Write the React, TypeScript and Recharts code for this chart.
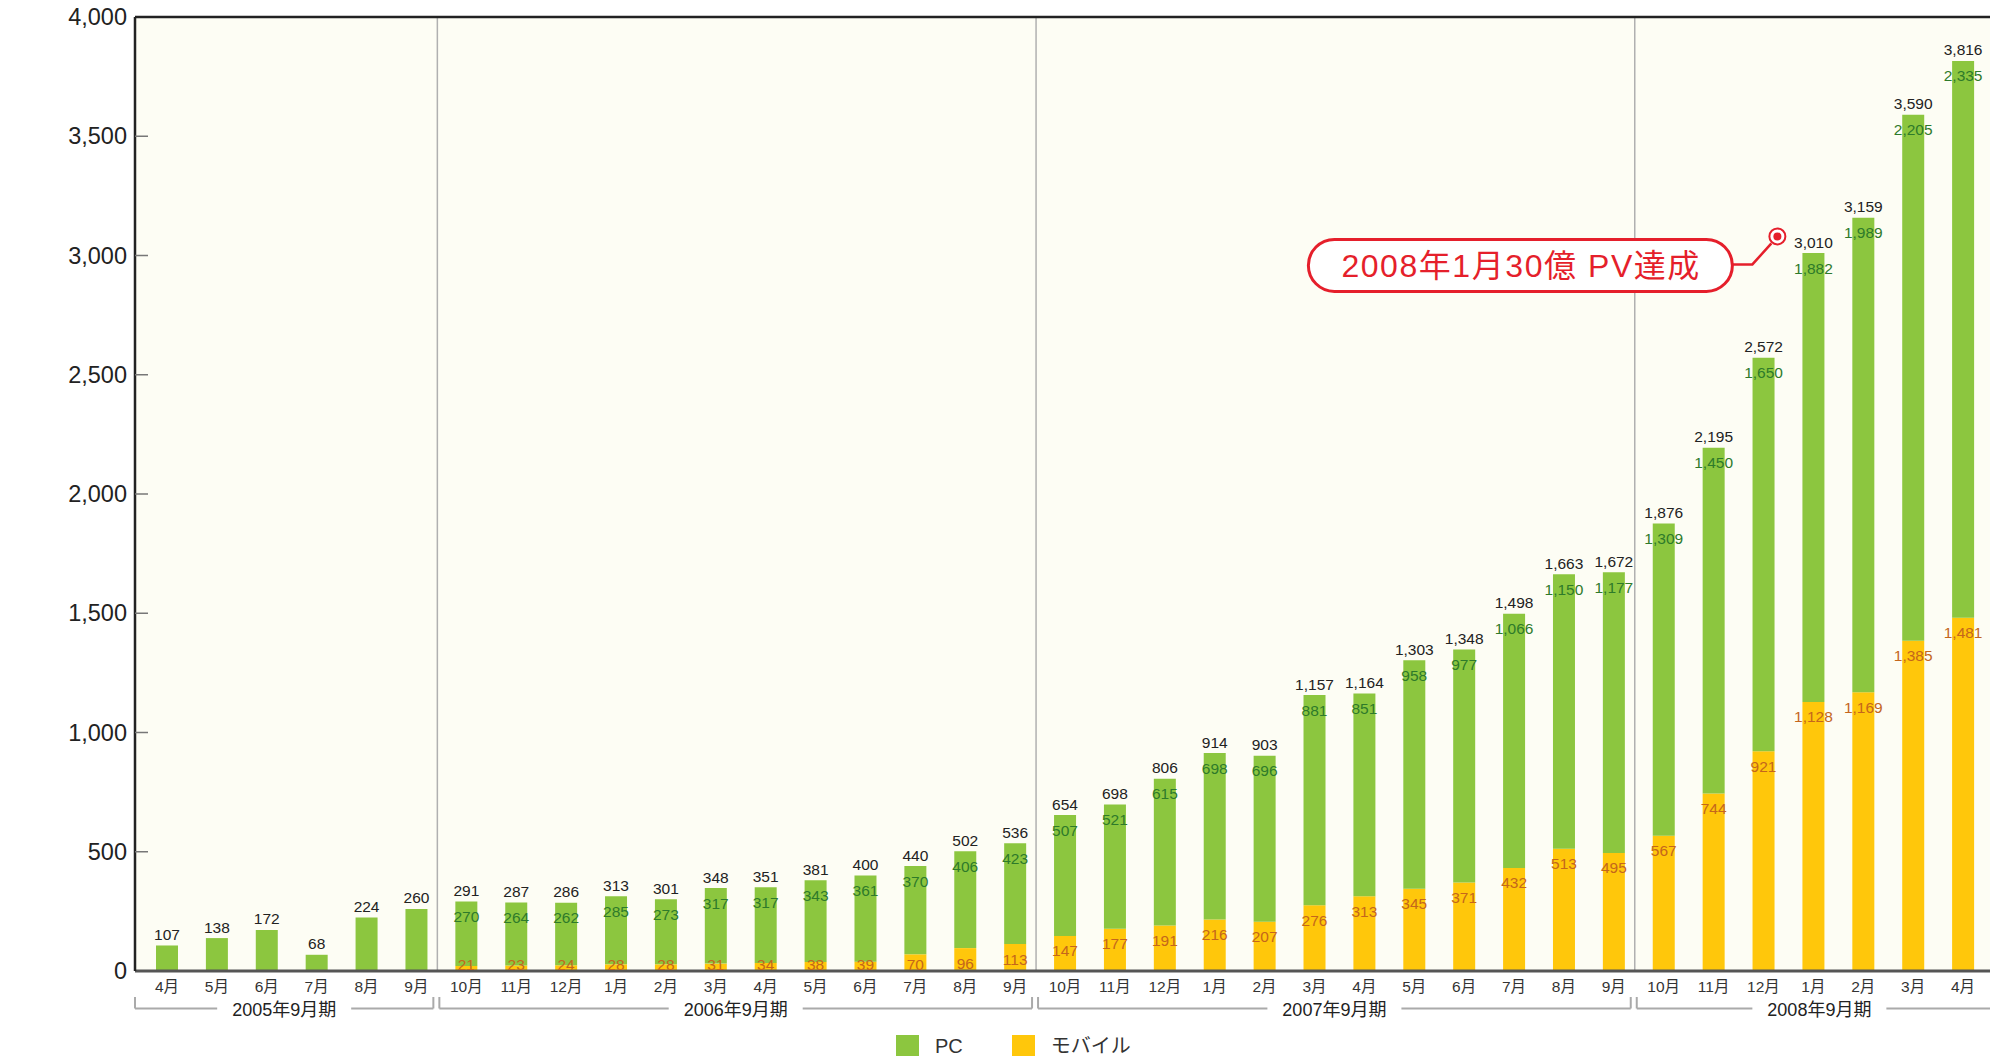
import React from "react";
import {
  BarChart,
  Bar,
  XAxis,
  YAxis,
  CartesianGrid,
  ReferenceLine,
  ReferenceDot,
  LabelList,
  Legend,
} from "recharts";

// months of each fiscal period (the last one is cut off at April)
const monthLabels = [
  "4月", "5月", "6月", "7月", "8月", "9月",
  "10月", "11月", "12月", "1月", "2月", "3月", "4月", "5月", "6月", "7月", "8月", "9月",
  "10月", "11月", "12月", "1月", "2月", "3月", "4月", "5月", "6月", "7月", "8月", "9月",
  "10月", "11月", "12月", "1月", "2月", "3月", "4月",
];
const fiscalYears = ["2005年9月期", "2006年9月期", "2007年9月期", "2008年9月期"];
const fiscalMonthCounts = [6, 12, 12, 7];

// 万PV
const pcValues = [
  107, 138, 172, 68, 224, 260,
  270, 264, 262, 285, 273, 317, 317, 343, 361, 370, 406, 423,
  507, 521, 615, 698, 696, 881, 851, 958, 977, 1066, 1150, 1177,
  1309, 1450, 1650, 1882, 1989, 2205, 2335,
];
const mobileValues: (number | null)[] = [
  null, null, null, null, null, null,
  21, 23, 24, 28, 28, 31, 34, 38, 39, 70, 96, 113,
  147, 177, 191, 216, 207, 276, 313, 345, 371, 432, 513, 495,
  567, 744, 921, 1128, 1169, 1385, 1481,
];
const totalValues = [
  107, 138, 172, 68, 224, 260,
  291, 287, 286, 313, 301, 348, 351, 381, 400, 440, 502, 536,
  654, 698, 806, 914, 903, 1157, 1164, 1303, 1348, 1498, 1663, 1672,
  1876, 2195, 2572, 3010, 3159, 3590, 3816,
];
const yTicks = [0, 500, 1000, 1500, 2000, 2500, 3000, 3500, 4000];

const milestoneFy = "2008年9月期";
const milestoneMonth = "1月";
const milestoneLevel = 3080;
const milestoneText = "2008年1月30億 PV達成";

const GREEN = "#8cc63f";
const YELLOW = "#ffc70b";
const RED = "#e51f2b";
const FONT = '"Liberation Sans", "Noto Sans CJK JP", Arial, sans-serif';

const W = 1990;
const H = 1056;
const AXIS_X = 135;
const PAD_L = 7;
const PAD_R = 2;
const BAND = (W - AXIS_X - PAD_L - PAD_R) / monthLabels.length;

// which fiscal period each month belongs to
const fyOfMonth: number[] = [];
fiscalMonthCounts.forEach((n, g) => {
  for (let k = 0; k < n; k++) fyOfMonth.push(g);
});
const groupStartIdx = fiscalMonthCounts.map((_, g) =>
  fiscalMonthCounts.slice(0, g).reduce((a, b) => a + b, 0)
);

const data = monthLabels.map((m, i) => ({
  key: `${fiscalYears[fyOfMonth[i]]}-${m}`,
  month: m,
  pc: pcValues[i],
  mobile: mobileValues[i],
  total: totalValues[i],
}));

const fmt = (v: number) => v.toLocaleString("en-US");

function YTick(props: any) {
  const { x, y, payload } = props;
  const ax = x + 8;
  return (
    <g>
      {payload.value > 0 && payload.value < 4000 && (
        <line x1={ax} y1={y} x2={ax + 13} y2={y} stroke="#777" strokeWidth={1.5} />
      )}
      <text x={x} y={y} textAnchor="end" dominantBaseline="central" fontSize={23.5} fill="#222" fontFamily={FONT}>
        {fmt(payload.value)}
      </text>
    </g>
  );
}

function XTick(props: any) {
  const { x, y, payload } = props;
  const i: number = props.index ?? payload.index;
  const half = payload.offset > 0 ? payload.offset : BAND / 2;
  const g = fyOfMonth[i];
  const k = i - groupStartIdx[g];
  let group = null;
  if (k === 0) {
    const n = fiscalMonthCounts[g];
    const isLast = g === fiscalYears.length - 1;
    const gs = x - half;
    const ge = gs + n * 2 * half;
    const left = g === 0 ? gs - 7 : gs - 2;
    const right = isLast ? ge + 14 : ge - 8;
    const cx = (left + right) / 2;
    const label = fiscalYears[g];
    const tw = [...label].reduce((s, c) => s + (/[0-9]/.test(c) ? 10 : 18), 0);
    const hw = tw / 2 + 15;
    const ly = y + 37.5;
    group = (
      <g stroke="#aaa" strokeWidth={2} fill="none">
        <line x1={left} y1={ly} x2={cx - hw} y2={ly} />
        <line x1={cx + hw} y1={ly} x2={right} y2={ly} />
        <line x1={left} y1={y + 26} x2={left} y2={ly} />
        {!isLast && <line x1={right} y1={y + 26} x2={right} y2={ly} />}
        <text x={cx} y={y + 39} textAnchor="middle" dominantBaseline="central" fontSize={18} fill="#222" stroke="none" fontFamily={FONT}>
          {label}
        </text>
      </g>
    );
  }
  return (
    <g>
      <text x={x} y={y + 15} textAnchor="middle" dominantBaseline="central" fontSize={15.5} fill="#333" fontFamily={FONT}>
        {payload.value.split("-")[1]}
      </text>
      {group}
    </g>
  );
}

function MobileLabel(props: any) {
  const { x, y, width, value } = props;
  if (value == null) return null;
  const base = 971;
  const cy = Math.min(y + 15, base - 7);
  return (
    <text x={x + width / 2} y={cy} textAnchor="middle" dominantBaseline="central" fontSize={15.5} fill="#c4661c" fontFamily={FONT}>
      {fmt(value)}
    </text>
  );
}

function PcLabel(props: any) {
  const { x, y, width, value, index } = props;
  if (mobileValues[index] == null) return null;
  return (
    <text x={x + width / 2} y={y + 15} textAnchor="middle" dominantBaseline="central" fontSize={15.5} fill="#2e7a2a" fontFamily={FONT}>
      {fmt(value)}
    </text>
  );
}

function TotalLabel(props: any) {
  const { x, y, width, value } = props;
  return (
    <text x={x + width / 2} y={y - 11} textAnchor="middle" dominantBaseline="central" fontSize={15.5} fill="#222" fontFamily={FONT}>
      {fmt(value)}
    </text>
  );
}

function Milestone(props: any) {
  const { cx, cy } = props;
  const mx = cx - 36;
  return (
    <g>
      <polyline
        points={`${mx - 45},${cy + 28} ${mx - 25},${cy + 28} ${mx - 6},${cy + 7}`}
        fill="none"
        stroke={RED}
        strokeWidth={2.5}
      />
      <rect x={mx - 469} y={cy + 3} width={424} height={52} rx={26} fill="#fff" stroke={RED} strokeWidth={3} />
      <text x={mx - 257} y={cy + 30} textAnchor="middle" dominantBaseline="central" fontSize={32} fill={RED} fontFamily={FONT} textLength={358} lengthAdjust="spacing">
        {milestoneText}
      </text>
      <circle cx={mx} cy={cy} r={8} fill="#fff" stroke={RED} strokeWidth={2} />
      <circle cx={mx} cy={cy} r={4} fill={RED} />
    </g>
  );
}

function LegendContent(props: any) {
  const items = props.payload || [];
  return (
    <div style={{ display: "flex", alignItems: "center", fontFamily: FONT, fontSize: 20, lineHeight: "23px", color: "#333" }}>
      {items.map((it: any) => (
        <div key={it.value} style={{ display: "flex", alignItems: "center", marginRight: 49 }}>
          <div style={{ width: 23, height: 23, background: it.color, marginRight: 16 }} />
          <span>{it.value}</span>
        </div>
      ))}
    </div>
  );
}

export default function App() {
  const separators = groupStartIdx.slice(1).map((idx) => data[idx].key);
  return (
    <div style={{ position: "absolute", left: 0, top: 0, width: W, height: H, overflow: "hidden", background: "#fff" }}>
      <BarChart
        width={W}
        height={H}
        data={data}
        margin={{ top: 17, right: 0, bottom: 0, left: 0 }}
        barSize={22}
        style={{ fontFamily: FONT }}
      >
        <CartesianGrid horizontal={false} vertical={false} fill="#fdfdf4" />
        <XAxis
          dataKey="key"
          height={85}
          interval={0}
          tickSize={0}
          tickMargin={0}
          tickLine={false}
          axisLine={{ stroke: "#555", strokeWidth: 3 }}
          tick={<XTick />}
          padding={{ left: PAD_L, right: PAD_R }}
        />
        <YAxis
          width={AXIS_X}
          domain={[0, 4000]}
          ticks={yTicks}
          interval={0}
          tickSize={0}
          tickMargin={8}
          tickLine={false}
          axisLine={{ stroke: "#222", strokeWidth: 2.5 }}
          tick={<YTick />}
        />
        {separators.map((k) => (
          <ReferenceLine
            key={k}
            x={k}
            position="start"
            shape={(p: any) => (
              <line x1={p.x1 - 4} y1={p.y1} x2={p.x2 - 4} y2={p.y2} stroke="#b0b0b0" strokeWidth={1.5} />
            )}
          />
        ))}
        <ReferenceLine y={4000} stroke="#222" strokeWidth={2.5} />
        <Bar dataKey="mobile" name="モバイル" stackId="a" fill={YELLOW} isAnimationActive={false}>
          <LabelList dataKey="mobile" content={<MobileLabel />} />
        </Bar>
        <Bar dataKey="pc" name="PC" stackId="a" fill={GREEN} isAnimationActive={false}>
          <LabelList dataKey="pc" content={<PcLabel />} />
          <LabelList dataKey="total" content={<TotalLabel />} />
        </Bar>
        <ReferenceDot
          x={`${milestoneFy}-${milestoneMonth}`}
          y={milestoneLevel}
          shape={<Milestone />}
        />
        <Legend
          layout="horizontal"
          verticalAlign="middle"
          align="center"
          wrapperStyle={{ top: 1035, left: 896, width: 400, height: 24 }}
          content={<LegendContent />}
        />
      </BarChart>
    </div>
  );
}
